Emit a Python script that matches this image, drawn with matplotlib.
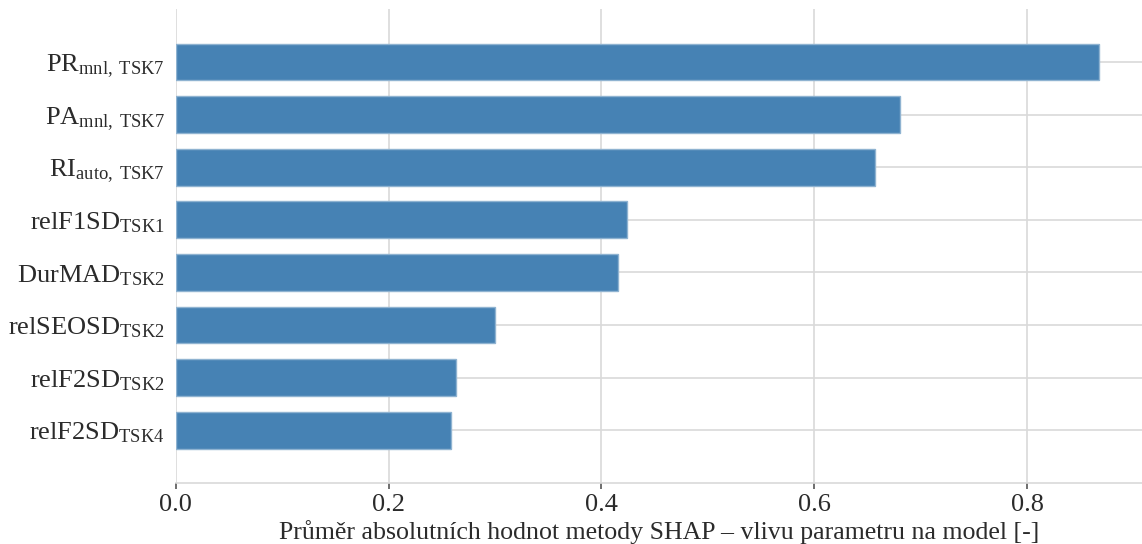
import matplotlib
matplotlib.use('Agg')
import matplotlib.pyplot as plt
import numpy as np

# mean |SHAP| per feature, top-ranked first
features = [
    r'$\mathrm{PR}_{\mathrm{mnl,\ TSK7}}$',
    r'$\mathrm{PA}_{\mathrm{mnl,\ TSK7}}$',
    r'$\mathrm{RI}_{\mathrm{auto,\ TSK7}}$',
    r'$\mathrm{relF1SD}_{\mathrm{TSK1}}$',
    r'$\mathrm{DurMAD}_{\mathrm{TSK2}}$',
    r'$\mathrm{relSEOSD}_{\mathrm{TSK2}}$',
    r'$\mathrm{relF2SD}_{\mathrm{TSK2}}$',
    r'$\mathrm{relF2SD}_{\mathrm{TSK4}}$',
]
shap_values = [0.8675, 0.681, 0.657, 0.424, 0.416, 0.300, 0.263, 0.259]
xticks = [0.0, 0.2, 0.4, 0.6, 0.8]
xlabel = 'Průměr absolutních hodnot metody SHAP – vlivu parametru na model [-]'

plt.rcParams['font.family'] = ['Liberation Serif', 'DejaVu Serif']
plt.rcParams['mathtext.fontset'] = 'custom'
plt.rcParams['mathtext.rm'] = 'Liberation Serif'
plt.rcParams['mathtext.it'] = 'Liberation Serif:italic'
plt.rcParams['mathtext.bf'] = 'Liberation Serif:bold'

text_col = '#2b2b2b'
grid_col = '#d9d9d9'

fig = plt.figure(figsize=(11.42, 5.44), dpi=100)
ax = fig.add_axes([0.1539, 0.1116, 0.8461, 0.8719])

ypos = np.arange(len(features))
ax.barh(ypos, shap_values, height=0.7, color='#4682b4',
        edgecolor='#8fb3d1', linewidth=1.0, zorder=2)

ax.set_yticks(ypos)
ax.set_yticklabels(features)
ax.set_ylim(8.01, -1.01)
ax.set_xlim(0, 0.908)
ax.set_xticks(xticks)
ax.set_xticklabels([f'{t:.1f}' for t in xticks])

ax.grid(True, color=grid_col, linewidth=1.2, zorder=0)
ax.set_axisbelow(True)
for side in ['top', 'right', 'left']:
    ax.spines[side].set_visible(False)
ax.spines['bottom'].set_color(grid_col)
ax.spines['bottom'].set_linewidth(1.2)

ax.tick_params(axis='y', length=0, pad=8, labelsize=19, labelcolor=text_col)
ax.tick_params(axis='x', length=4.5, width=1.2, color='#555555', pad=3,
               labelsize=19, labelcolor=text_col)

ax.set_xlabel(xlabel, fontsize=18.6, color=text_col, labelpad=3)

fig.savefig('out.png', dpi=100)
